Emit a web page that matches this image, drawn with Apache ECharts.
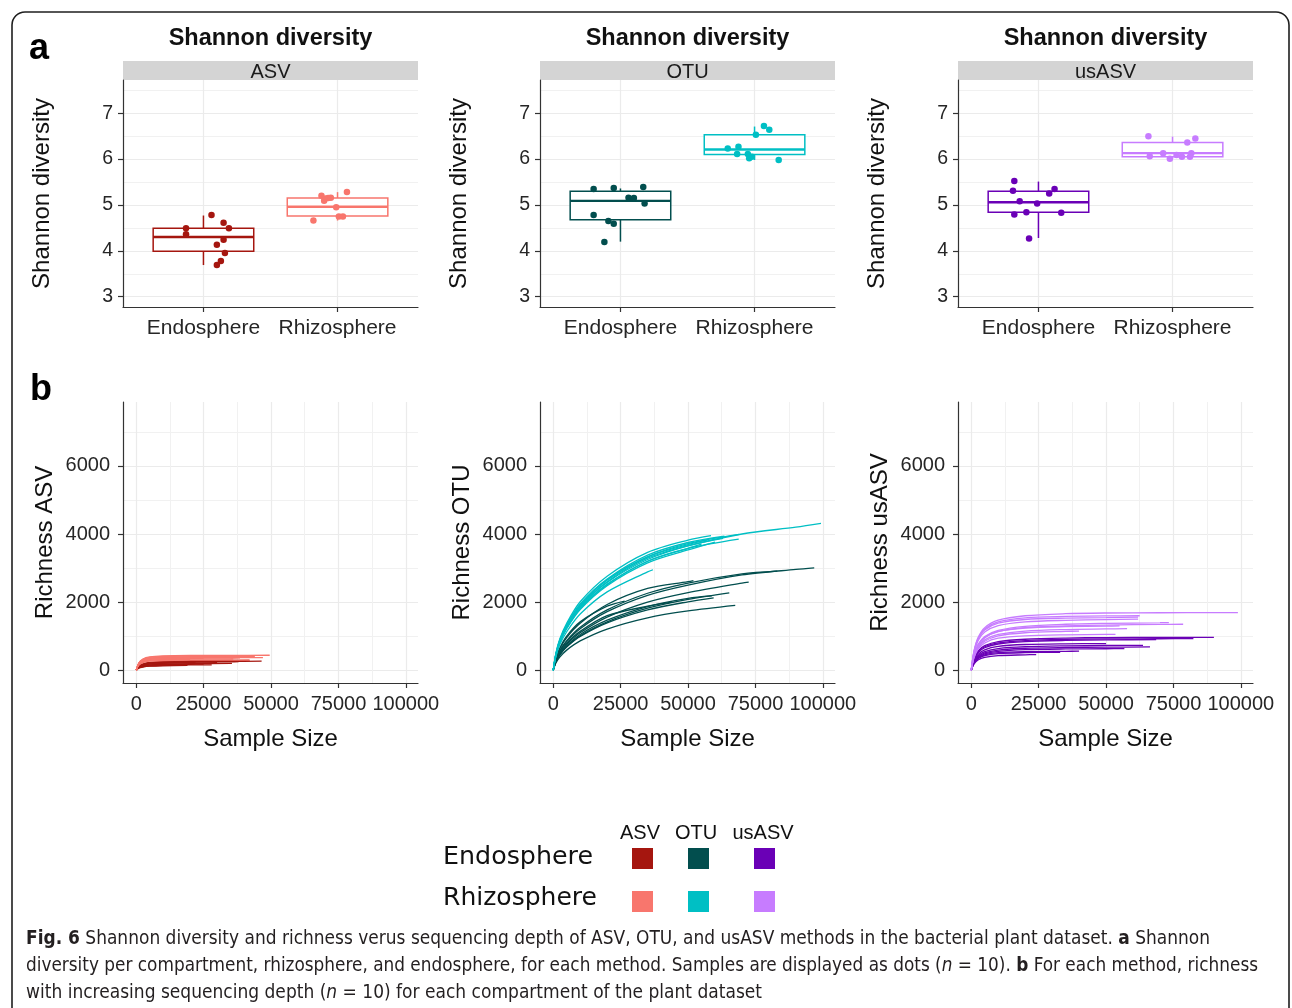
<!DOCTYPE html>
<html><head><meta charset="utf-8">
<script src="https://cdn.jsdelivr.net/npm/echarts@6/dist/echarts.min.js"></script>
<style>html,body{margin:0;padding:0;background:#fff}#chart{width:1292px;height:1008px}</style>
</head><body><div id="chart"></div>
<script>
// ================= DATA =================
const methods = ['ASV', 'OTU', 'usASV'];
const compartments = ['Endosphere', 'Rhizosphere'];
const endoColors = ['#A5160F', '#024E4E', '#6A00B6'];
const rhizoColors = ['#F8766D', '#00BFC4', '#C77CFF'];

// Shannon diversity per sample (n = 10) and horizontal jitter (category units)
const asvEndoShannon = [4.49, 4.36, 4.78, 4.61, 4.49, 4.24, 4.13, 3.95, 3.78, 3.69];
const asvEndoJitter = [-0.13, -0.13, 0.06, 0.15, 0.19, 0.15, 0.10, 0.16, 0.13, 0.10];
const asvRhizoShannon = [5.20, 5.09, 5.15, 5.28, 4.95, 4.75, 4.75, 4.66, 5.14, 5.16];
const asvRhizoJitter = [-0.12, -0.10, -0.07, 0.07, -0.01, 0.01, 0.04, -0.18, -0.09, -0.05];
const otuEndoShannon = [5.35, 5.37, 5.39, 5.16, 5.15, 5.03, 4.78, 4.65, 4.59, 4.19];
const otuEndoJitter = [-0.20, -0.05, 0.17, 0.06, 0.10, 0.18, -0.20, -0.09, -0.05, -0.12];
const otuRhizoShannon = [6.72, 6.64, 6.53, 6.23, 6.27, 6.11, 6.11, 6.02, 6.05, 5.98];
const otuRhizoJitter = [0.07, 0.11, 0.01, -0.20, -0.12, -0.13, -0.05, -0.04, -0.02, 0.18];
const usasvEndoShannon = [5.52, 5.31, 5.35, 5.25, 5.08, 5.03, 4.84, 4.79, 4.83, 4.27];
const usasvEndoJitter = [-0.18, -0.19, 0.12, 0.08, -0.14, -0.01, -0.09, -0.18, 0.17, -0.07];
const usasvRhizoShannon = [6.50, 6.45, 6.36, 6.13, 6.13, 6.06, 6.01, 6.05, 6.05, 6.09];
const usasvRhizoJitter = [-0.18, 0.17, 0.11, -0.07, 0.14, -0.17, -0.02, 0.07, 0.13, 0.03];

// box statistics [min, Q1, median, Q3, max]
const asvEndoBox = [3.69, 3.99, 4.30, 4.49, 4.77];
const asvRhizoBox = [4.66, 4.76, 4.96, 5.15, 5.28];
const otuEndoBox = [4.20, 4.68, 5.09, 5.30, 5.36];
const otuRhizoBox = [5.98, 6.10, 6.21, 6.53, 6.71];
const usasvEndoBox = [4.28, 4.84, 5.06, 5.30, 5.51];
const usasvRhizoBox = [6.01, 6.05, 6.13, 6.36, 6.49];

// axis ticks
const shannonTicks = [3, 4, 5, 6, 7];
const shannonMinor = [3.5, 4.5, 5.5, 6.5, 7.5];
const depthTicks = [0, 25000, 50000, 75000, 100000];
const depthMinor = [12500, 37500, 62500, 87500];
const richTicks = [0, 2000, 4000, 6000];
const richMinor = [1000, 3000, 5000, 7000];

// rarefaction curves: richness read at these sequencing depths (only those below each curve's end)
const depthGrid = [0, 1000, 2500, 5000, 10000, 20000, 35000, 50000, 70000, 90000];
// [end depth, end richness]
const asvEndoEnds = [[46500, 265], [38000, 250], [30000, 220], [25000, 180], [19000, 140], [42000, 290], [35500, 200], [28000, 160], [12000, 150], [22000, 240]];
const asvEndoRich = [
  [0, 110, 170, 210, 235, 252, 260], [0, 105, 160, 200, 225, 240, 248], [0, 95, 145, 180, 200, 214],
  [0, 80, 120, 150, 166, 176], [0, 65, 95, 118, 132], [0, 120, 185, 230, 258, 278, 287],
  [0, 85, 130, 160, 180, 193, 199], [0, 70, 105, 130, 145, 155], [0, 75, 110, 135, 147], [0, 100, 155, 195, 220, 234]];
const asvRhizoEnds = [[49500, 440], [38500, 360], [44000, 400], [36000, 330], [30000, 380], [42000, 300], [25000, 350], [33000, 420], [20000, 310], [47000, 370]];
const asvRhizoRich = [
  [0, 220, 330, 390, 420, 435, 438], [0, 190, 280, 325, 348, 357, 359], [0, 200, 300, 355, 382, 395, 399],
  [0, 170, 250, 295, 318, 327, 329], [0, 200, 300, 350, 372, 379], [0, 150, 225, 265, 286, 296, 299],
  [0, 185, 275, 320, 343, 349], [0, 215, 320, 380, 408, 418], [0, 165, 245, 290, 306], [0, 185, 280, 330, 355, 366, 369]];
const otuEndoEnds = [[96800, 3005], [83100, 2907], [72500, 2585], [65300, 2273], [59500, 2127], [67500, 1902], [52000, 2634], [26500, 2030], [58800, 2180], [44000, 2000]];
const otuEndoRich = [
  [0, 300, 560, 840, 1220, 1720, 2200, 2500, 2800, 2960], [0, 310, 580, 870, 1260, 1770, 2260, 2560, 2830],
  [0, 270, 500, 760, 1100, 1560, 2000, 2280, 2560], [0, 250, 460, 700, 1010, 1420, 1820, 2080],
  [0, 240, 450, 680, 990, 1390, 1770, 2010], [0, 210, 390, 590, 860, 1210, 1540, 1740],
  [0, 340, 640, 960, 1380, 1930, 2400, 2600], [0, 350, 660, 1000, 1420, 1880],
  [0, 260, 480, 720, 1050, 1470, 1870, 2110], [0, 280, 520, 790, 1140, 1600, 1880]];
const otuRhizoEnds = [[99300, 4310], [69000, 3990], [68800, 3850], [63500, 3940], [63000, 3870], [58500, 3950], [57000, 3820], [55000, 3700], [60000, 3760], [37000, 2950]];
const otuRhizoRich = [
  [0, 460, 870, 1290, 1870, 2580, 3250, 3650, 4000, 4200], [0, 470, 890, 1320, 1920, 2650, 3330, 3720],
  [0, 440, 840, 1250, 1820, 2520, 3200, 3580], [0, 480, 900, 1340, 1950, 2680, 3380, 3750],
  [0, 450, 860, 1280, 1870, 2600, 3290, 3660], [0, 500, 930, 1380, 2010, 2760, 3460, 3820],
  [0, 470, 880, 1300, 1900, 2650, 3330, 3690], [0, 440, 830, 1240, 1810, 2520, 3200, 3580],
  [0, 430, 820, 1220, 1780, 2480, 3150, 3530], [0, 400, 760, 1130, 1650, 2300, 2890]];
const usasvEndoEnds = [[90000, 966], [82400, 927], [68600, 898], [66300, 683], [63700, 732], [56800, 634], [33000, 527], [24100, 459], [50000, 780], [40000, 560]];
const usasvEndoRich = [
  [0, 330, 560, 720, 840, 910, 945, 958, 964], [0, 310, 530, 690, 800, 870, 905, 918, 924],
  [0, 300, 510, 660, 770, 840, 875, 890], [0, 230, 390, 510, 590, 645, 668, 678],
  [0, 250, 420, 545, 635, 690, 716, 727], [0, 220, 370, 480, 555, 605, 625, 631],
  [0, 200, 340, 430, 490, 515], [0, 180, 300, 380, 430, 452],
  [0, 270, 460, 600, 700, 755, 775], [0, 210, 350, 450, 515, 545, 556]];
const usasvRhizoEnds = [[98900, 1690], [61900, 1560], [61900, 1500], [78600, 1350], [73300, 1400], [57800, 1220], [53500, 1055], [62500, 1600], [40000, 1150], [55000, 1300]];
const usasvRhizoRich = [
  [0, 550, 950, 1250, 1470, 1600, 1660, 1680, 1688, 1690], [0, 520, 900, 1180, 1380, 1490, 1530, 1545],
  [0, 500, 860, 1120, 1310, 1420, 1465, 1485], [0, 420, 720, 950, 1130, 1250, 1300, 1325, 1345],
  [0, 440, 750, 990, 1170, 1290, 1350, 1375, 1395], [0, 400, 680, 890, 1050, 1150, 1195, 1212],
  [0, 360, 610, 800, 940, 1010, 1040, 1052], [0, 530, 920, 1210, 1420, 1540, 1580, 1595],
  [0, 380, 650, 850, 1010, 1100, 1140], [0, 430, 740, 970, 1140, 1240, 1280, 1295]];

const captionLines = [
  '{b|Fig. 6} Shannon diversity and richness verus sequencing depth of ASV, OTU, and usASV methods in the bacterial plant dataset. {b|a} Shannon',
  'diversity per compartment, rhizosphere, and endosphere, for each method. Samples are displayed as dots ({i|n} = 10). {b|b} For each method, richness',
  'with increasing sequencing depth ({i|n} = 10) for each compartment of the plant dataset'
];

// ================= LAYOUT / STYLE =================
const FONT = "'Liberation Sans', Arial, Helvetica, sans-serif";
const CAP_FONT = "'Liberation Sans Narrow', 'DejaVu Sans Condensed', 'Liberation Sans', sans-serif";
const LEG_FONT = "'DejaVu Sans', 'Noto Sans', sans-serif";
const AXIS_COLOR = '#333333', GRID_COLOR = '#EBEBEB', MINOR_COLOR = '#F1F1F1', TICK_TEXT = '#262626';
const colLeft = [123, 540, 958];
const plotW = 295;

const measureCtx = document.createElement('canvas').getContext('2d');
function textWidth(str, font) { measureCtx.font = font; return measureCtx.measureText(str).width; }
function richWidth(str, size, family) {
  let w = 0, last = 0, m; const re = /\{(\w+)\|([^}]*)\}/g;
  while ((m = re.exec(str)) !== null) {
    w += textWidth(str.slice(last, m.index), `${size}px ${family}`);
    w += textWidth(m[2], `${m[1] === 'b' ? 'bold' : 'italic'} ${size}px ${family}`);
    last = re.lastIndex;
  }
  w += textWidth(str.slice(last), `${size}px ${family}`);
  return w;
}

function valueAxis(gridIndex, min, max, ticks, labelSize, labelMargin, formatter, name, nameGap) {
  return {
    type: 'value', gridIndex, min, max,
    axisLine: { show: true, onZero: false, lineStyle: { color: AXIS_COLOR, width: 1.2 } },
    axisTick: { show: true, length: 5, customValues: ticks, lineStyle: { color: AXIS_COLOR, width: 1.2 } },
    axisLabel: { show: true, customValues: ticks, fontSize: labelSize, margin: labelMargin, color: TICK_TEXT, fontFamily: FONT, formatter },
    splitLine: { show: true, lineStyle: { color: GRID_COLOR, width: 1.2 } },
    minorTick: { show: false }, minorSplitLine: { show: false },
    name, nameLocation: 'middle', nameGap,
    nameTextStyle: { fontSize: 24, color: '#111', fontFamily: FONT }
  };
}
function minorAxis(gridIndex, min, max, ticks) {
  return {
    type: 'value', gridIndex, min, max,
    axisLine: { show: false, onZero: false },
    axisTick: { show: false, customValues: ticks },
    axisLabel: { show: false, customValues: ticks },
    splitLine: { show: true, lineStyle: { color: MINOR_COLOR, width: 1 } }
  };
}

const grids = [], xAxes = [], yAxes = [], series = [], graphics = [];

// ---------- panel a: Shannon boxplots ----------
const shannonSets = [
  [asvEndoShannon, asvEndoJitter, asvRhizoShannon, asvRhizoJitter, asvEndoBox, asvRhizoBox],
  [otuEndoShannon, otuEndoJitter, otuRhizoShannon, otuRhizoJitter, otuEndoBox, otuRhizoBox],
  [usasvEndoShannon, usasvEndoJitter, usasvRhizoShannon, usasvRhizoJitter, usasvEndoBox, usasvRhizoBox]
];
methods.forEach((m, i) => {
  const [eVals, eJit, rVals, rJit, eBox, rBox] = shannonSets[i];
  const gi = grids.length;
  grids.push({ left: colLeft[i], top: 80, width: plotW, height: 227, containLabel: false, outerBoundsMode: 'none' });
  const xi = xAxes.length;
  xAxes.push(valueAxis(gi, 0.4, 2.6, [1, 2], 21, 11, v => compartments[Math.round(v) - 1], '', 0));
  const yi = yAxes.length;
  yAxes.push(valueAxis(gi, 2.775, 7.725, shannonTicks, 19.5, 10, v => String(v), 'Shannon diversity', 69));
  yAxes.push(minorAxis(gi, 2.775, 7.725, shannonMinor));
  const cols = [endoColors[i], rhizoColors[i]];
  series.push({
    type: 'custom', xAxisIndex: xi, yAxisIndex: yi, z: 2, silent: true,
    encode: { x: 0, y: [1, 2, 3, 4, 5] },
    data: [[1].concat(eBox, [0]), [2].concat(rBox, [1])],
    renderItem(params, api) {
      const x = api.value(0);
      const c = cols[api.value(6)];
      const pMin = api.coord([x, api.value(1)]), pQ1 = api.coord([x, api.value(2)]);
      const pMed = api.coord([x, api.value(3)]), pQ3 = api.coord([x, api.value(4)]);
      const pMax = api.coord([x, api.value(5)]);
      const hw = api.size([0.75, 0])[0] / 2;
      return {
        type: 'group', children: [
          { type: 'line', shape: { x1: pMax[0], y1: pMax[1], x2: pQ3[0], y2: pQ3[1] }, style: { stroke: c, lineWidth: 1.5 } },
          { type: 'line', shape: { x1: pQ1[0], y1: pQ1[1], x2: pMin[0], y2: pMin[1] }, style: { stroke: c, lineWidth: 1.5 } },
          { type: 'rect', shape: { x: pQ3[0] - hw, y: pQ3[1], width: 2 * hw, height: pQ1[1] - pQ3[1] }, style: { fill: '#ffffff', stroke: c, lineWidth: 1.5 } },
          { type: 'line', shape: { x1: pMed[0] - hw, y1: pMed[1], x2: pMed[0] + hw, y2: pMed[1] }, style: { stroke: c, lineWidth: 2.4 } }
        ]
      };
    }
  });
  [[eVals, eJit, 1, cols[0]], [rVals, rJit, 2, cols[1]]].forEach(([vals, jit, cat, c]) => {
    series.push({
      type: 'scatter', xAxisIndex: xi, yAxisIndex: yi, z: 3, silent: true,
      symbolSize: 6.5, itemStyle: { color: c, opacity: 1 },
      data: vals.map((v, k) => [cat + jit[k], v])
    });
  });
  // title + strip
  const cx = colLeft[i] + plotW / 2;
  graphics.push({ type: 'text', x: cx, y: 38.5, silent: true, style: { text: 'Shannon diversity', font: `bold 23.5px ${FONT}`, fill: '#111', align: 'center', verticalAlign: 'middle', textAlign: 'center', textVerticalAlign: 'middle' } });
  graphics.push({ type: 'rect', silent: true, shape: { x: colLeft[i], y: 61, width: plotW, height: 19 }, style: { fill: '#D4D4D4' } });
  graphics.push({ type: 'text', x: cx, y: 72, silent: true, style: { text: m, font: `20px ${FONT}`, fill: '#1a1a1a', align: 'center', verticalAlign: 'middle', textAlign: 'center', textVerticalAlign: 'middle' } });
});

// ---------- panel b: rarefaction ----------
const rareSets = [
  [asvEndoEnds, asvEndoRich, asvRhizoEnds, asvRhizoRich],
  [otuEndoEnds, otuEndoRich, otuRhizoEnds, otuRhizoRich],
  [usasvEndoEnds, usasvEndoRich, usasvRhizoEnds, usasvRhizoRich]
];
function curvePoints(end, rich) {
  const pts = [];
  depthGrid.forEach((d, k) => { if (d < end[0] && k < rich.length) pts.push([d, rich[k]]); });
  pts.push(end);
  return pts;
}
methods.forEach((m, i) => {
  const [eEnds, eRich, rEnds, rRich] = rareSets[i];
  const gi = grids.length;
  grids.push({ left: colLeft[i], top: 402, width: plotW, height: 281, containLabel: false, outerBoundsMode: 'none' });
  const xi = xAxes.length;
  xAxes.push(valueAxis(gi, -4900, 104500, depthTicks, 20, 11, v => String(v), 'Sample Size', 44));
  xAxes.push(minorAxis(gi, -4900, 104500, depthMinor));
  const yi = yAxes.length;
  yAxes.push(valueAxis(gi, -375, 7875, richTicks, 20, 13, v => String(v), 'Richness ' + m, 66));
  yAxes.push(minorAxis(gi, -375, 7875, richMinor));
  [[eEnds, eRich, endoColors[i]], [rEnds, rRich, rhizoColors[i]]].forEach(([ends, rich, c], g) => {
    ends.forEach((end, k) => {
      series.push({
        type: 'line', xAxisIndex: xi, yAxisIndex: yi, z: 3 + g, silent: true,
        showSymbol: false, symbol: 'none', smooth: 0.3,
        lineStyle: { color: c, width: 1.3 }, itemStyle: { color: c },
        emphasis: { disabled: true },
        data: curvePoints(end, rich[k])
      });
    });
  });
});

// ---------- frame & panel letters ----------
graphics.push({ type: 'rect', silent: true, shape: { x: 12, y: 12, width: 1277, height: 1040, r: 13 }, style: { fill: 'none', stroke: '#1f1f1f', lineWidth: 1.6 } });
graphics.push({ type: 'text', x: 39, y: 49.5, silent: true, style: { text: 'a', font: `bold 36px ${FONT}`, fill: '#000', align: 'center', verticalAlign: 'middle', textAlign: 'center', textVerticalAlign: 'middle' } });
graphics.push({ type: 'text', x: 41, y: 390.5, silent: true, style: { text: 'b', font: `bold 36px ${FONT}`, fill: '#000', align: 'center', verticalAlign: 'middle', textAlign: 'center', textVerticalAlign: 'middle' } });

// ---------- legend ----------
const legHeadX = [640, 696, 763];
const legSqX = [632, 688, 754];
const legRowY = [848, 891];
const legRowTextY = [858, 899];
const legRowWidth = [150, 154];
methods.forEach((m, i) => {
  graphics.push({ type: 'text', x: legHeadX[i], y: 833, silent: true, style: { text: m, font: `20px ${FONT}`, fill: '#111', align: 'center', verticalAlign: 'middle', textAlign: 'center', textVerticalAlign: 'middle' } });
  [endoColors[i], rhizoColors[i]].forEach((c, r) => {
    graphics.push({ type: 'rect', silent: true, shape: { x: legSqX[i], y: legRowY[r], width: 21, height: 21 }, style: { fill: c } });
  });
});
compartments.forEach((name, r) => {
  const f = `24px ${LEG_FONT}`;
  const s = legRowWidth[r] / textWidth(name, f);
  graphics.push({ type: 'text', x: 443, y: legRowTextY[r], scaleX: s, scaleY: 1, silent: true, style: { text: name, font: f, fill: '#111', align: 'left', verticalAlign: 'middle', textAlign: 'left', textVerticalAlign: 'middle' } });
});

// ---------- caption ----------
const capY = [939, 966, 993];
const capW = [1184, 1232, 736];
const CAP_SIZE = 19;
captionLines.forEach((line, k) => {
  const s = capW[k] / richWidth(line, CAP_SIZE, CAP_FONT);
  graphics.push({
    type: 'text', x: 26, y: capY[k], scaleX: s, scaleY: 1, silent: true,
    style: {
      text: line, font: `${CAP_SIZE}px ${CAP_FONT}`, fill: '#231F20',
      align: 'left', verticalAlign: 'middle', textAlign: 'left', textVerticalAlign: 'middle',
      rich: {
        b: { fontWeight: 'bold', fontSize: CAP_SIZE, fontFamily: CAP_FONT, fill: '#231F20', color: '#231F20' },
        i: { fontStyle: 'italic', fontSize: CAP_SIZE, fontFamily: CAP_FONT, fill: '#231F20', color: '#231F20' }
      }
    }
  });
});

const chart = echarts.init(document.getElementById('chart'), null, { renderer: 'canvas' });
chart.setOption({
  animation: false,
  backgroundColor: '#ffffff',
  grid: grids, xAxis: xAxes, yAxis: yAxes, series,
  graphic: { elements: graphics }
});
</script></body></html>
